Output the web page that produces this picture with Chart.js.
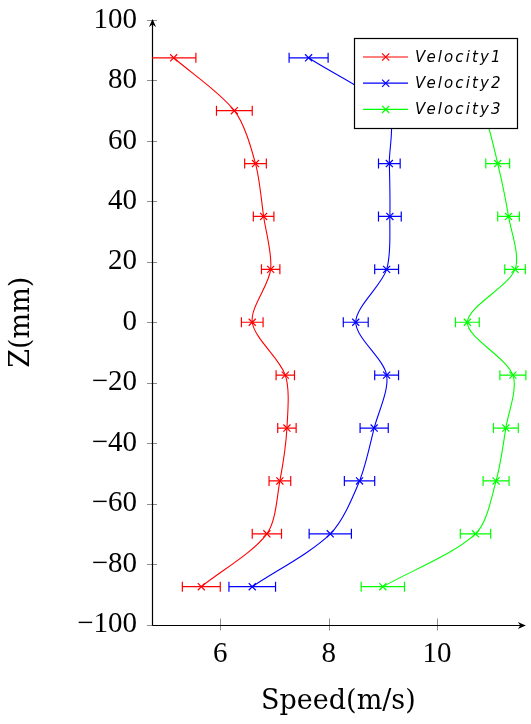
<!DOCTYPE html>
<html>
<head>
<meta charset="utf-8">
<script src="https://cdn.jsdelivr.net/npm/chart.js@4/dist/chart.umd.min.js"></script>
<style>
  html, body { margin: 0; padding: 0; background: #fff; }
  #wrap { width: 531px; height: 724px; }
</style>
</head>
<body>
<div id="wrap"><canvas id="perfil-velocidade" width="531" height="724"></canvas></div>
<script>
// dados
var zPos = [87.5, 70, 52.5, 35, 17.5, 0, -17.5, -35, -52.5, -70, -87.5];
var velocity1 = [5.14, 6.26, 6.65, 6.80, 6.93, 6.59, 7.20, 7.23, 7.10, 6.86, 5.65];
var velocity1Err = [0.41, 0.33, 0.20, 0.19, 0.17, 0.20, 0.17, 0.17, 0.20, 0.27, 0.35];
var velocity2 = [7.63, 9.08, 9.12, 9.13, 9.07, 8.50, 9.07, 8.84, 8.57, 8.03, 6.59];
var velocity2Err = [0.36, 0.30, 0.20, 0.21, 0.22, 0.23, 0.22, 0.26, 0.28, 0.39, 0.43];
var velocity3 = [10.30, 10.85, 11.12, 11.32, 11.44, 10.56, 11.40, 11.27, 11.09, 10.71, 9.00];
var velocity3Err = [0.35, 0.30, 0.22, 0.20, 0.19, 0.22, 0.24, 0.23, 0.24, 0.28, 0.40];
var seriesNames = ['Velocity1', 'Velocity2', 'Velocity3'];
var seriesColors = ['#ff0000', '#0000ff', '#00ff00'];
var xTicks = [6, 8, 10];
var yTicks = [-100, -80, -60, -40, -20, 0, 20, 40, 60, 80, 100];

var fonteNum = '"Liberation Serif", serif';
var fonteTitulo = '"DejaVu Serif", serif';

function pontos(vals) {
    return vals.map(function(v, i) { return { x: v, y: zPos[i] }; });
}

function criarSerie(nome, vals, erros, cor) {
    return {
        label: nome,
        data: pontos(vals),
        erros: erros,
        borderColor: cor,
        backgroundColor: cor,
        borderWidth: 1.1,
        pointStyle: 'crossRot',
        pointRadius: 5,
        pointBorderWidth: 1.2,
        pointBorderColor: cor,
        tension: 0.3,
        fill: false
    };
}

var ctx = document.getElementById('perfil-velocidade').getContext('2d');

// eixos com seta + marcas de tick cruzando o eixo
var eixosPlugin = {
    id: 'eixos',
    beforeDatasetsDraw: function(chart) {
        var c = chart.ctx, a = chart.chartArea;
        var sx = chart.scales.x, sy = chart.scales.y;
        c.save();
        c.strokeStyle = '#909090';
        c.lineWidth = 1;
        yTicks.forEach(function(t) {
            var py = Math.round(sy.getPixelForValue(t)) + 0.5;
            c.beginPath(); c.moveTo(a.left - 5, py); c.lineTo(a.left + 5, py); c.stroke();
        });
        xTicks.forEach(function(t) {
            var px = Math.round(sx.getPixelForValue(t)) + 0.5;
            c.beginPath(); c.moveTo(px, a.bottom - 6); c.lineTo(px, a.bottom + 6); c.stroke();
        });
        c.strokeStyle = '#000';
        c.fillStyle = '#000';
        c.lineWidth = 1.2;
        var x0 = Math.round(a.left) + 0.5, y0 = Math.round(a.bottom) + 0.5;
        c.beginPath(); c.moveTo(x0, y0); c.lineTo(x0, a.top); c.stroke();
        c.beginPath(); c.moveTo(x0, y0); c.lineTo(a.right, y0); c.stroke();
        // setas
        c.beginPath();
        c.moveTo(x0, a.top - 1); c.lineTo(x0 - 3.5, a.top + 7); c.lineTo(x0, a.top + 4.5); c.lineTo(x0 + 3.5, a.top + 7);
        c.closePath(); c.fill();
        c.beginPath();
        c.moveTo(a.right + 1, y0); c.lineTo(a.right - 7, y0 - 3.5); c.lineTo(a.right - 4.5, y0); c.lineTo(a.right - 7, y0 + 3.5);
        c.closePath(); c.fill();
        c.restore();

        // barras de erro
        c.save();
        c.beginPath();
        c.rect(a.left, 0, a.right - a.left + 4, chart.height);
        c.clip();
        c.lineWidth = 1.2;
        chart.data.datasets.forEach(function(ds) {
            c.strokeStyle = ds.borderColor;
            ds.data.forEach(function(p, i) {
                var py = sy.getPixelForValue(p.y);
                var xl = sx.getPixelForValue(p.x - ds.erros[i]);
                var xr = sx.getPixelForValue(p.x + ds.erros[i]);
                c.beginPath();
                c.moveTo(xl, py); c.lineTo(xr, py);
                c.moveTo(xl, py - 5); c.lineTo(xl, py + 5);
                c.moveTo(xr, py - 5); c.lineTo(xr, py + 5);
                c.stroke();
            });
        });
        c.restore();
    }
};

// legenda desenhada por cima dos dados
var legendaPlugin = {
    id: 'legendaCaixa',
    afterDatasetsDraw: function(chart) {
        var c = chart.ctx;
        var bx = 354.5, by = 38.5, bw = 163, bh = 90;
        c.save();
        c.fillStyle = '#fff';
        c.fillRect(bx, by, bw, bh);
        c.strokeStyle = '#000';
        c.lineWidth = 1.2;
        c.strokeRect(bx, by, bw, bh);
        c.font = 'italic 15px "DejaVu Sans", sans-serif';
        c.letterSpacing = '2.1px';
        c.textBaseline = 'middle';
        seriesNames.forEach(function(nome, i) {
            var ly = by + 18.5 + i * 26.2;
            c.strokeStyle = seriesColors[i];
            c.lineWidth = 1.2;
            c.beginPath(); c.moveTo(363, ly); c.lineTo(408, ly); c.stroke();
            var d = 3.6;
            c.beginPath();
            c.moveTo(385.7 - d, ly - d); c.lineTo(385.7 + d, ly + d);
            c.moveTo(385.7 - d, ly + d); c.lineTo(385.7 + d, ly - d);
            c.stroke();
            c.fillStyle = '#000';
            c.fillText(nome, 415, ly + 1);
        });
        c.restore();
    }
};

var chartVelocidade = new Chart(ctx, {
    type: 'line',
    data: {
        datasets: [
            criarSerie(seriesNames[0], velocity1, velocity1Err, seriesColors[0]),
            criarSerie(seriesNames[1], velocity2, velocity2Err, seriesColors[1]),
            criarSerie(seriesNames[2], velocity3, velocity3Err, seriesColors[2])
        ]
    },
    options: {
        responsive: false,
        animation: false,
        layout: { padding: { top: 20, right: 2, left: 0, bottom: 0 } },
        scales: {
            x: {
                type: 'linear',
                min: 4.74,
                max: 11.62,
                afterBuildTicks: function(s) { s.ticks = xTicks.map(function(v) { return { value: v }; }); },
                afterFit: function(s) { s.height = 99.5; s.paddingLeft = 0; s.paddingRight = 0; },
                grid: { display: false, drawTicks: false },
                border: { display: false },
                ticks: {
                    color: '#000',
                    padding: 12,
                    maxRotation: 0,
                    font: { family: fonteNum, size: 29 }
                },
                title: {
                    display: true,
                    text: 'Speed(m/s)',
                    color: '#000',
                    font: { family: fonteTitulo, size: 27 },
                    padding: { top: 0, bottom: 6 }
                }
            },
            y: {
                type: 'linear',
                min: -100,
                max: 100,
                afterBuildTicks: function(s) { s.ticks = yTicks.map(function(v) { return { value: v }; }); },
                afterFit: function(s) { s.width = 152; s.paddingTop = 0; s.paddingBottom = 0; },
                grid: { display: false, drawTicks: false },
                border: { display: false },
                ticks: {
                    color: '#000',
                    padding: 15,
                    font: { family: fonteNum, size: 29 },
                    callback: function(v) { return v < 0 ? '\u2212' + Math.abs(v) : '' + v; }
                },
                title: {
                    display: true,
                    text: 'Z(mm)',
                    color: '#000',
                    font: { family: fonteTitulo, size: 27 },
                    padding: { top: 6, bottom: 0 }
                }
            }
        },
        plugins: {
            legend: { display: false },
            tooltip: { enabled: false }
        }
    },
    plugins: [eixosPlugin, legendaPlugin]
});
</script>
</body>
</html>
